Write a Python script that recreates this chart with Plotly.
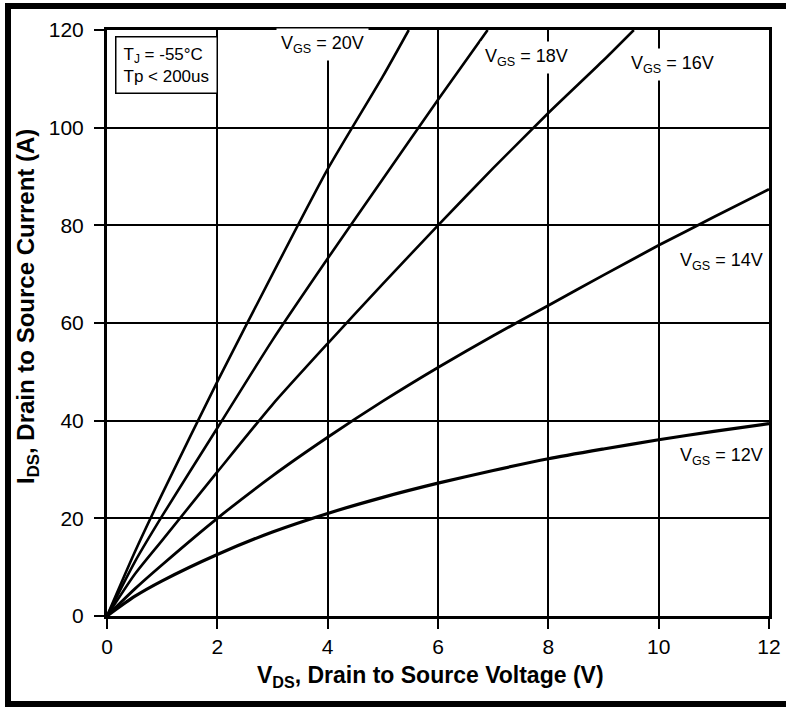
import plotly.graph_objects as go

# ---- data ----
vds_20 = [0, 0.5, 1, 2, 3, 4, 5, 5.47]
ids_20 = [0, 13, 25, 48, 70, 91.5, 110.5, 120]

vds_18 = [0, 0.5, 1, 2, 3, 4, 5, 6, 6.9]
ids_18 = [0, 11, 20.5, 38.5, 56.5, 73.2, 89.5, 105.7, 120]

vds_16 = [0, 0.5, 1, 2, 3, 4, 5, 6, 7, 8, 9, 9.55]
ids_16 = [0, 8.5, 15.5, 29.5, 43.3, 55.8, 68, 80, 91.7, 103, 113.8, 120]

vds_14 = [0, 0.5, 1, 2, 3, 4, 5, 6, 7, 8, 9, 10, 11, 12]
ids_14 = [0, 5.5, 10.5, 20, 28.7, 36.6, 44, 50.9, 57.4, 63.6, 69.8, 75.9, 81.7, 87.4]

vds_12 = [0, 0.5, 1, 2, 3, 4, 5, 6, 7, 8, 9, 10, 11, 12]
ids_12 = [0, 4, 7.2, 12.6, 17.2, 21, 24.3, 27.2, 29.8, 32.2, 34.2, 36.1, 37.8, 39.4]

curves = [
    ("V<sub>GS</sub> = 20V", vds_20, ids_20, 2.6),
    ("V<sub>GS</sub> = 18V", vds_18, ids_18, 2.6),
    ("V<sub>GS</sub> = 16V", vds_16, ids_16, 2.6),
    ("V<sub>GS</sub> = 14V", vds_14, ids_14, 2.8),
    ("V<sub>GS</sub> = 12V", vds_12, ids_12, 3.2),
]

x_ticks = [0, 2, 4, 6, 8, 10, 12]
y_ticks = [0, 20, 40, 60, 80, 100, 120]

x_title = "<b>V<sub>DS</sub>, Drain to Source Voltage (V)</b>"
y_title = "<b>I<sub>DS</sub>, Drain to Source Current (A)</b>"

FONT = "Liberation Sans, Arial, sans-serif"

fig = go.Figure()
for name, xs, ys, w in curves:
    fig.add_trace(go.Scatter(x=xs, y=ys, mode="lines", name=name,
                             line=dict(color="black", width=w, shape="spline", smoothing=0.6),
                             showlegend=False, hoverinfo="skip"))

L, R, T, B = 107, 17, 30, 91
W = 786 - L - R
H = 707 - T - B

def px_x(p):
    return (p - L) / W

def px_y(p):
    return (707 - B - p) / H

# curve labels (position in data coords)
labels = [
    ("V<sub>GS</sub> = 20V", 3.9, 117.0),
    ("V<sub>GS</sub> = 18V", 7.6, 114.3),
    ("V<sub>GS</sub> = 16V", 10.25, 113.0),
    ("V<sub>GS</sub> = 14V", 11.13, 72.5),
    ("V<sub>GS</sub> = 12V", 11.13, 32.6),
]
annotations = []
for text, lx, ly in labels:
    annotations.append(dict(x=lx, y=ly, xref="x", yref="y", text=text, showarrow=False,
                            font=dict(family=FONT, size=18, color="black"),
                            bgcolor="white", borderpad=4))

annotations.append(dict(x=px_x(115), y=px_y(36), xref="paper", yref="paper", xanchor="left", yanchor="top",
                        text="T<sub>J</sub> = -55°C<br>Tp < 200us", align="left", showarrow=False,
                        font=dict(family=FONT, size=17, color="black"),
                        bgcolor="white", bordercolor="black", borderwidth=1.5, borderpad=7))

# axis titles
annotations.append(dict(x=px_x(430), y=px_y(677), xref="paper", yref="paper",
                        xanchor="center", yanchor="middle", text=x_title, showarrow=False,
                        font=dict(family=FONT, size=23, color="black")))
annotations.append(dict(x=px_x(27), y=px_y(307), xref="paper", yref="paper",
                        xanchor="center", yanchor="middle", text=y_title, showarrow=False,
                        textangle=-90, font=dict(family=FONT, size=24, color="black")))

shapes = [dict(type="rect", xref="paper", yref="paper",
               x0=px_x(8), x1=px_x(820), y0=px_y(704), y1=px_y(6),
               line=dict(color="black", width=6), layer="above")]

axis_common = dict(showgrid=True, gridcolor="black", gridwidth=2,
                   showline=True, linecolor="black", linewidth=3, mirror=True,
                   ticks="outside", ticklen=10, tickwidth=2, tickcolor="black",
                   tickfont=dict(family=FONT, size=21, color="black"),
                   zeroline=False, fixedrange=True, automargin=False)

fig.update_layout(
    width=786, height=707,
    margin=dict(l=L, r=R, t=T, b=B, pad=0, autoexpand=False),
    paper_bgcolor="white", plot_bgcolor="white",
    font=dict(family=FONT, color="black"),
    xaxis=dict(range=[0, 12], tickvals=x_ticks, ticktext=[str(v) for v in x_ticks],
               **axis_common),
    yaxis=dict(range=[0, 120], tickvals=y_ticks, ticktext=[str(v) for v in y_ticks],
               ticklabelstandoff=6,
               **axis_common),
    annotations=annotations,
    shapes=shapes,
)

fig.write_html("out.html", config={"displayModeBar": False},
               post_script="document.body.style.margin='0';")
